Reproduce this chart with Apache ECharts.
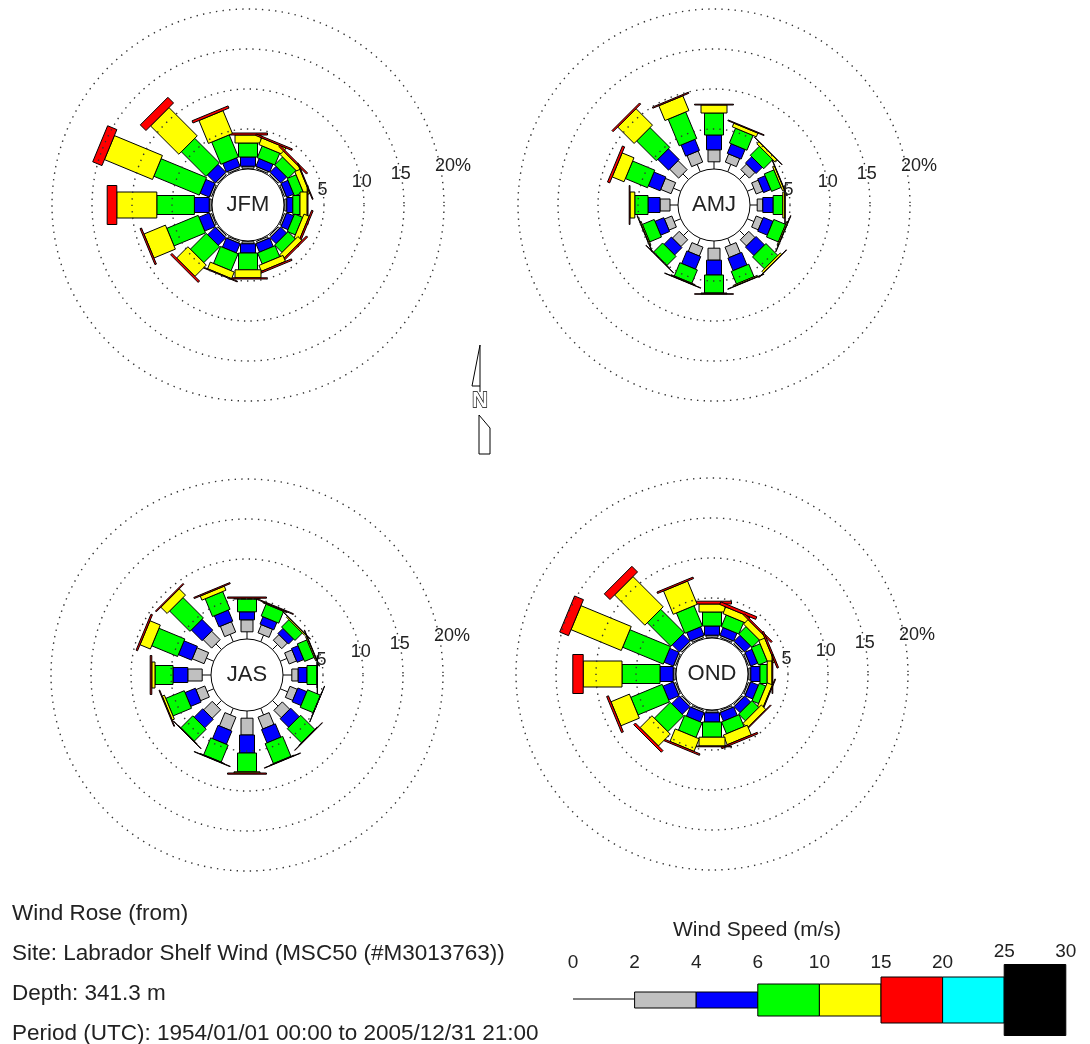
<!DOCTYPE html>
<html><head><meta charset="utf-8">
<script src="https://cdn.jsdelivr.net/npm/echarts@6/dist/echarts.min.js"></script>
<style>html,body{margin:0;padding:0;background:#fff}#c{width:1090px;height:1044px}</style>
</head><body><div id="c"></div>
<script>
// ---------------- data ----------------
const directions = ['N','NNE','NE','ENE','E','ESE','SE','SSE','S','SSW','SW','WSW','W','WNW','NW','NNW'];
const speedClasses = ['0-2','2-4','4-6','6-10','10-15','15-20','20-25','25-30'];
const speedBreaks = ['0','2','4','6','10','15','20','25','30'];
const classColors = [null,'#c0c0c0','#0000ff','#00ff00','#ffff00','#ff0000','#00ffff','#000000'];
const ringValues = [0,5,10,15,20];
const ringLabels = ['','5','10','15','20%'];
const seasons = ['JFM','AMJ','JAS','OND'];
const textLines = ['Wind Rose (from)','Site: Labrador Shelf Wind (MSC50 (#M3013763))','Depth: 341.3 m','Period (UTC): 1954/01/01 00:00 to 2005/12/31 21:00'];
const legendTitle = 'Wind Speed (m/s)';

// % of time per direction (rows N..NNW), columns: 0-2, 2-4, 4-6, 6-10, 10-15, 15-20 m/s
const jfm = [
  [0.1,0.25,1.15,1.75,1.0,0.25],
  [0.1,0.25,1.05,1.6,0.9,0.2],
  [0.1,0.25,1.05,1.4,0.6,0.2],
  [0.1,0.25,0.95,1.2,0.7,0.1],
  [0.1,0.25,0.75,0.9,0.9,0.1],
  [0.1,0.25,0.95,1.1,0.7,0.2],
  [0.1,0.25,1.05,1.3,0.7,0.2],
  [0.1,0.25,1.15,1.5,0.8,0.2],
  [0.1,0.25,1.15,2.1,1.0,0.15],
  [0.1,0.25,1.25,2.3,0.9,0.1],
  [0.1,0.25,1.35,2.8,2.0,0.25],
  [0.1,0.25,1.4,4.25,2.9,0.2],
  [0.1,0.25,1.85,4.7,5.0,1.2],
  [0.1,0.25,1.25,6.15,6.5,1.25],
  [0.1,0.25,1.4,4.35,5.0,1.0],
  [0.1,0.25,1.15,3.0,3.1,0.3]
];
const amj = [
  [0.9,1.5,1.85,2.75,1.0,0.1],
  [1.0,1.1,1.3,2.0,0.5,0.1],
  [1.0,1.0,1.1,1.6,0.35,0.05],
  [0.9,0.9,1.0,1.3,0.25,0.05],
  [0.9,0.7,1.3,1.2,0.25,0.05],
  [0.9,0.9,1.3,1.6,0.15,0.05],
  [0.9,1.1,1.5,2.1,0.25,0.05],
  [0.9,1.4,1.7,1.7,0.15,0.05],
  [0.9,1.5,1.85,2.25,0.1,0.05],
  [0.9,1.2,1.7,1.8,0.1,0.05],
  [0.9,1.2,1.3,1.6,0.05,0.05],
  [0.9,1.0,1.2,1.6,0.15,0.05],
  [1.0,1.25,1.5,1.65,0.6,0.1],
  [1.0,1.4,1.6,3.0,1.6,0.3],
  [1.0,1.6,1.9,3.5,2.9,0.2],
  [1.0,1.5,1.5,3.6,2.0,0.15]
];
const jas = [
  [0.9,1.5,1.0,1.6,0.1,0.15],
  [0.9,1.1,1.0,1.6,0.1,0.1],
  [0.9,1.0,0.9,1.3,0.15,0.05],
  [0.9,1.0,0.9,1.3,0.15,0.05],
  [1.1,0.8,1.1,1.25,0.03,0.02],
  [1.0,1.0,1.2,1.75,0.03,0.02],
  [1.0,1.3,1.5,2.5,0.05,0.05],
  [0.9,1.6,1.8,2.7,0.05,0.05],
  [0.9,2.1,2.25,2.35,0.15,0.15],
  [0.9,1.8,1.8,2.3,0.05,0.05],
  [0.9,1.5,1.5,2.1,0.05,0.05],
  [0.9,1.2,1.4,2.5,0.3,0.1],
  [1.1,1.8,1.85,2.25,0.4,0.2],
  [1.0,1.6,1.8,3.5,1.4,0.2],
  [1.0,1.5,1.9,3.6,1.1,0.15],
  [1.0,1.4,1.5,2.4,0.55,0.15]
];
const ond = [
  [0.1,0.25,1.15,1.75,1.0,0.35],
  [0.1,0.25,1.05,1.6,0.9,0.35],
  [0.1,0.25,1.05,1.3,0.8,0.2],
  [0.1,0.25,0.95,1.2,0.8,0.2],
  [0.1,0.25,1.15,0.9,0.6,0.1],
  [0.1,0.25,1.05,0.9,0.7,0.1],
  [0.1,0.25,1.05,1.2,0.8,0.1],
  [0.1,0.25,1.15,1.6,1.3,0.2],
  [0.1,0.25,1.15,1.9,1.1,0.1],
  [0.1,0.25,1.25,2.0,1.7,0.2],
  [0.1,0.25,1.35,2.8,2.1,0.3],
  [0.1,0.25,1.4,4.25,2.5,0.25],
  [0.1,0.25,1.65,4.75,4.85,1.3],
  [0.1,0.25,1.25,5.5,6.8,1.2],
  [0.1,0.25,1.25,4.15,5.35,1.0],
  [0.1,0.25,1.15,2.75,3.15,0.2]
];
const seasonData = [jfm, amj, jas, ond];

// ---------------- layout / style ----------------
const FONT = '"Liberation Sans", Arial, sans-serif';
const roseCenters = [[248,205],[714,205],[247,675],[712,674]];
const roseWidths = [0,12,15,19,26,39,39,56];
const legendHeights = [0,16,16,32,32,46,46,71];
const labelAngle = 78.5;

const polar = [], angleAxis = [], radiusAxis = [], series = [];
seasons.forEach((name, si) => {
  polar.push({center: roseCenters[si], radius: [36,196]});
  angleAxis.push({polarIndex: si, type:'value', min:0, max:360, startAngle:90, clockwise:true, show:false});
  radiusAxis.push({polarIndex: si, type:'value', min:0, max:20, show:false});
  const rows = seasonData[si];
  series.push({
    type:'custom', coordinateSystem:'polar', polarIndex: si, z: 2, silent:true,
    data: rows.map((r,i) => [r.reduce((a,b)=>a+b,0), i*360/directions.length]),
    renderItem: function(params, api){
      const vals = rows[params.dataIndex];
      const dir = api.value(1);
      const cs = params.coordSys;
      const o = api.coord([0, dir]);
      let ux = o[0]-cs.cx, uy = o[1]-cs.cy;
      const L = Math.hypot(ux,uy) || 1; ux/=L; uy/=L;
      const nx = -uy, ny = ux;
      const children = [];
      let cum = 0;
      for (let k=0;k<vals.length;k++){
        const v = vals[k];
        if (!v) continue;
        const a = api.coord([cum, dir]);
        const b = api.coord([cum+v, dir]);
        cum += v;
        if (k===0){
          children.push({type:'line', shape:{x1:a[0],y1:a[1],x2:b[0],y2:b[1]}, style:{stroke:'#000', lineWidth:1}});
          continue;
        }
        const h = roseWidths[k]/2;
        children.push({type:'polygon', shape:{points:[
          [a[0]+nx*h, a[1]+ny*h],[b[0]+nx*h, b[1]+ny*h],[b[0]-nx*h, b[1]-ny*h],[a[0]-nx*h, a[1]-ny*h]
        ]}, style:{fill:classColors[k], stroke:'#000', lineWidth:1}});
      }
      return {type:'group', children};
    }
  });
  series.push({
    type:'custom', coordinateSystem:'polar', polarIndex: si, z: 3, silent:true,
    data: ringValues.map(v => [v, labelAngle]),
    renderItem: function(params, api){
      const cs = params.coordSys;
      const v = api.value(0);
      const p = api.coord([v, 0]);
      const r = Math.hypot(p[0]-cs.cx, p[1]-cs.cy);
      const children = [];
      if (params.dataIndex === 0){
        children.push({type:'circle', shape:{cx:cs.cx, cy:cs.cy, r:r}, style:{fill:'none', stroke:'#000', lineWidth:1}});
        children.push({type:'text', x:cs.cx, y:cs.cy, style:{text:name, font:'22px '+FONT, fill:'#222', align:'center', verticalAlign:'middle'}});
      } else {
        children.push({type:'circle', shape:{cx:cs.cx, cy:cs.cy, r:r}, style:{fill:'none', stroke:'#333', lineWidth:1.4, lineDash:[1.4,5.2]}});
        const lp = api.coord([v, api.value(1)]);
        const lbl = ringLabels[params.dataIndex];
        const extra = lbl.endsWith('%') ? 13 : 0;
        children.push({type:'text', x:lp[0]+extra, y:lp[1], style:{text:lbl, font:'18px '+FONT, fill:'#222', align:'center', verticalAlign:'middle'}});
      }
      return {type:'group', children};
    }
  });
});

// ---------------- graphic: legend, text, north arrow ----------------
const graphic = [];
textLines.forEach((t,i) => {
  graphic.push({type:'text', x:12, y: 914 + i*40, style:{text:t, font:'22.5px '+FONT, fill:'#222', verticalAlign:'middle'}});
});
const lx0 = 573, lstep = 61.6, lcy = 1000;
speedClasses.forEach((c,i) => {
  const x1 = lx0 + i*lstep, x2 = lx0 + (i+1)*lstep;
  if (i===0){
    graphic.push({type:'line', shape:{x1:x1, y1:lcy-1, x2:x2, y2:lcy-1}, style:{stroke:'#000', lineWidth:1}});
  } else {
    const h = legendHeights[i];
    graphic.push({type:'rect', shape:{x:x1, y:lcy-h/2, width:x2-x1, height:h}, style:{fill:classColors[i], stroke:'#000', lineWidth:1}});
  }
});
speedBreaks.forEach((s,j) => {
  const hL = j>0 ? legendHeights[j-1] : 0;
  const hR = j<legendHeights.length ? legendHeights[j] : 0;
  const top = lcy - Math.max(hL,hR)/2;
  const y = Math.min(963, top - 13);
  graphic.push({type:'text', x: lx0 + j*lstep, y: y, style:{text:s, font:'19px '+FONT, fill:'#222', align:'center', verticalAlign:'middle'}});
});
graphic.push({type:'text', x: 757, y: 930, style:{text:legendTitle, font:'21px '+FONT, fill:'#222', align:'center', verticalAlign:'middle'}});
// north arrow
graphic.push({type:'polygon', shape:{points:[[480,345],[472,386],[480,386]]}, style:{fill:'#fff', stroke:'#000', lineWidth:1}});
graphic.push({type:'line', shape:{x1:480,y1:386,x2:480,y2:392}, style:{stroke:'#000', lineWidth:1}});
graphic.push({type:'text', x:480, y:401, style:{text:'N', font:'bold 22px '+FONT, fill:'#fff', stroke:'#000', lineWidth:1.3, align:'center', verticalAlign:'middle'}});
graphic.push({type:'polygon', shape:{points:[[479,415],[490,428],[490,454],[479,454]]}, style:{fill:'#fff', stroke:'#000', lineWidth:1}});

const chart = echarts.init(document.getElementById('c'), null, {renderer:'canvas'});
chart.setOption({
  animation:false,
  backgroundColor:'#fff',
  polar, angleAxis, radiusAxis, series, graphic
});
</script>
</body></html>
